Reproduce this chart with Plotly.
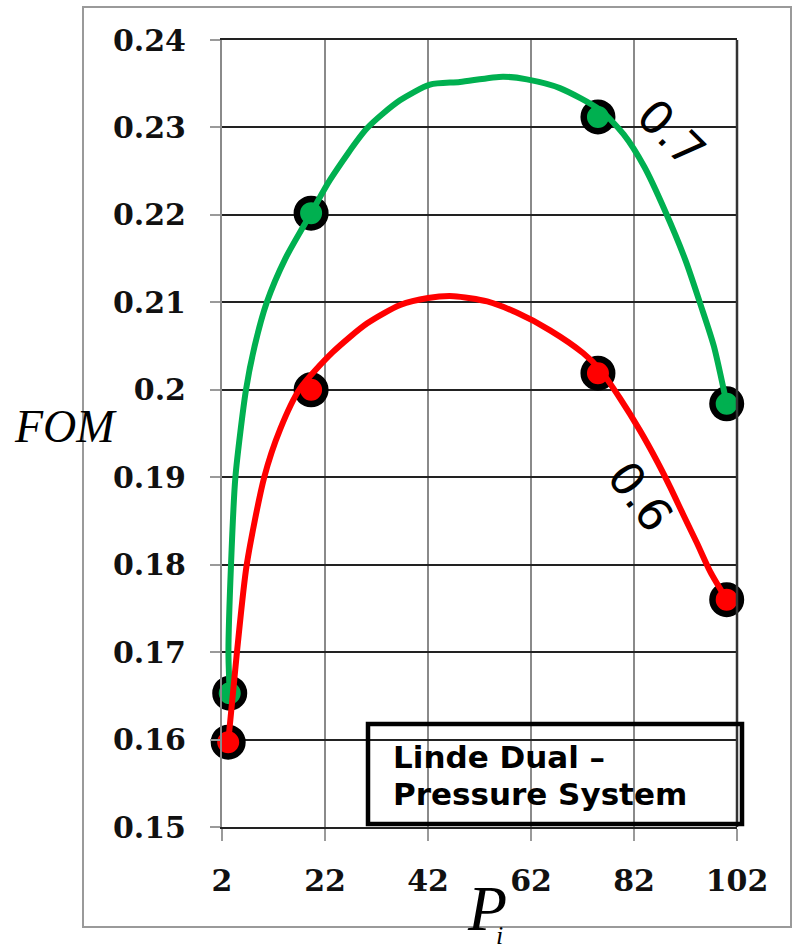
import plotly.graph_objects as go

# ---- data -------------------------------------------------------------
series_names = ["0.7", "0.6"]
series_colors = ["#00B050", "#FF0000"]

# measured points (P_i, FOM)
p_points_07 = [3.5, 19.3, 75.0, 100.0]
fom_points_07 = [0.1653, 0.2202, 0.2312, 0.1984]
p_points_06 = [3.2, 19.3, 75.0, 100.0]
fom_points_06 = [0.1597, 0.2000, 0.2019, 0.1760]

# smoothed trend curves through the points
p_curve_07 = [3.5, 3.25, 3.75, 4.6, 6.66, 8.34, 10.7, 14.3, 19.3, 22.97, 30.16,
              36.56, 42.39, 48.2, 56.56, 61.2, 67.6, 75.4, 80.0, 84.0, 88.0,
              92.0, 95.0, 97.5, 100.0]
fom_curve_07 = [0.1653, 0.1700, 0.1800, 0.1900, 0.2000, 0.2050, 0.2100, 0.2150,
                0.2202, 0.2240, 0.2299, 0.2331, 0.2349, 0.2352, 0.2358, 0.2355,
                0.2345, 0.2320, 0.2292, 0.2255, 0.2205, 0.2148, 0.2096, 0.2050,
                0.1984]
p_curve_06 = [3.2, 4.9, 6.8, 10.2, 13.3, 17.1, 23.5, 30.2, 36.6, 42.0, 47.0,
              53.5, 59.3, 65.7, 72.1, 75.4, 79.3, 83.2, 86.5, 89.0, 91.5, 94.2,
              96.8, 100.0]
fom_curve_06 = [0.1597, 0.1700, 0.1800, 0.1900, 0.1955, 0.2001, 0.2043, 0.2076,
                0.2097, 0.2105, 0.2107, 0.2101, 0.2088, 0.2068, 0.2042, 0.2023,
                0.1990, 0.1953, 0.1918, 0.1889, 0.1858, 0.1825, 0.1792, 0.1760]

x_tick_vals = [2, 22, 42, 62, 82, 102]
x_tick_text = ["2", "22", "42", "62", "82", "102"]
y_tick_vals = [0.15, 0.16, 0.17, 0.18, 0.19, 0.20, 0.21, 0.22, 0.23, 0.24]
y_tick_text = ["0.15", "0.16", "0.17", "0.18", "0.19", "0.2", "0.21", "0.22", "0.23", "0.24"]

box_lines = ["Linde Dual \u2013", "Pressure System"]

# ---- layout geometry (pixels) ------------------------------------------
W, H = 793, 950
L, R, T, B = 222, 737, 40, 827


def px(x):
    return (x - L) / (R - L)


def py(y):
    return (B - y) / (B - T)


fig = go.Figure()

points = [(p_points_07, fom_points_07), (p_points_06, fom_points_06)]
curves = [(p_curve_07, fom_curve_07), (p_curve_06, fom_curve_06)]

# markers first, curves drawn on top of them
for (xs, ys), col in zip(points, series_colors):
    fig.add_trace(go.Scatter(
        x=xs, y=ys, mode="markers",
        marker=dict(size=28.5, color=col, line=dict(color="black", width=6.5)),
        showlegend=False, hoverinfo="skip", cliponaxis=False,
    ))
for (xs, ys), col, name in zip(curves, series_colors, series_names):
    fig.add_trace(go.Scatter(
        x=xs, y=ys, mode="lines", name=name,
        line=dict(color=col, width=6, shape="spline", smoothing=0.7),
        showlegend=False, cliponaxis=False,
    ))

tick_font = dict(family="DejaVu Serif", size=30, color="#111111", weight="bold")

fig.update_xaxes(
    range=[2, 102], tickvals=x_tick_vals, ticktext=x_tick_text,
    showgrid=True, gridcolor="#8a8a8a", gridwidth=2,
    ticks="outside", ticklen=12, tickcolor="#9a9a9a", tickwidth=2,
    tickfont=tick_font, ticklabelstandoff=14,
    showline=True, linecolor="#222222", linewidth=2, mirror=True,
    zeroline=False, automargin=False,
)
fig.update_yaxes(
    range=[0.15, 0.24], tickvals=y_tick_vals, ticktext=y_tick_text,
    showgrid=True, gridcolor="#222222", gridwidth=2,
    ticks="outside", ticklen=10, tickcolor="#9a9a9a", tickwidth=2,
    tickfont=tick_font, ticklabelstandoff=18,
    showline=True, linecolor="#8a8a8a", linewidth=2,
    zeroline=False, automargin=False,
)

shapes = [
    # outer frame
    dict(type="rect", xref="paper", yref="paper",
         x0=px(83), x1=px(791), y0=py(927), y1=py(7),
         line=dict(color="#9a9a9a", width=2), layer="below"),
    # right border of plot area
    dict(type="line", xref="paper", yref="paper",
         x0=1, x1=1, y0=0, y1=1, line=dict(color="#333333", width=2.5)),
    # text box
    dict(type="rect", xref="paper", yref="paper",
         x0=px(368), x1=px(742), y0=py(824), y1=py(724),
         line=dict(color="black", width=4.5)),
]

annotations = [
    dict(text="FOM", xref="paper", yref="paper", x=px(12), y=py(426),
         xanchor="left", yanchor="middle", showarrow=False,
         font=dict(family="Liberation Serif", size=46, color="black", style="italic")),
    dict(text="P", xref="paper", yref="paper", x=px(487), y=py(908),
         xanchor="center", yanchor="middle", showarrow=False,
         font=dict(family="Liberation Serif", size=64, color="black", style="italic")),
    dict(text="i", xref="paper", yref="paper", x=px(499), y=py(935),
         xanchor="center", yanchor="middle", showarrow=False,
         font=dict(family="Liberation Serif", size=26, color="black", style="italic")),
    dict(text=box_lines[0], xref="paper", yref="paper", x=px(391), y=py(757),
         xanchor="left", yanchor="middle", showarrow=False,
         font=dict(family="DejaVu Sans", size=31, color="black", weight="bold")),
    dict(text=box_lines[1], xref="paper", yref="paper", x=px(391), y=py(794),
         xanchor="left", yanchor="middle", showarrow=False,
         font=dict(family="DejaVu Sans", size=31, color="black", weight="bold")),
    dict(text=series_names[0], xref="paper", yref="paper", x=px(671), y=py(133),
         xanchor="center", yanchor="middle", showarrow=False, textangle=45,
         font=dict(family="DejaVu Sans", size=46, color="black")),
    dict(text=series_names[1], xref="paper", yref="paper", x=px(640), y=py(496),
         xanchor="center", yanchor="middle", showarrow=False, textangle=53,
         font=dict(family="DejaVu Sans", size=46, color="black")),
]

fig.update_layout(
    width=W, height=H,
    margin=dict(l=L, r=W - R, t=T, b=H - B, autoexpand=False),
    paper_bgcolor="white", plot_bgcolor="white",
    shapes=shapes, annotations=annotations,
    showlegend=False,
)

fig.write_html("out.html")
